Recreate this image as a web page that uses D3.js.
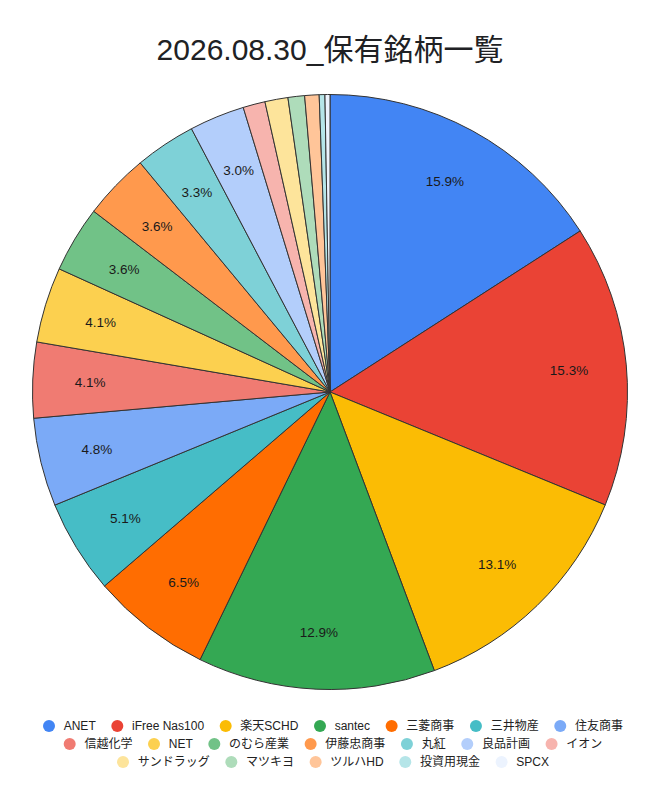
<!DOCTYPE html>
<html>
<head>
<meta charset="utf-8">
<script src="https://cdn.jsdelivr.net/npm/d3@7"></script>
<style>
  html, body { margin: 0; padding: 0; background: #fff; }
  svg { display: block; }
</style>
</head>
<body>
<svg id="chart" width="660" height="802"></svg>
<script>
const title = "2026.08.30_保有銘柄一覧";
const categories = ["ANET", "iFree Nas100", "楽天SCHD", "santec", "三菱商事", "三井物産", "住友商事",
  "信越化学", "NET", "のむら産業", "伊藤忠商事", "丸紅", "良品計画", "イオン",
  "サンドラッグ", "マツキヨ", "ツルハHD", "投資用現金", "SPCX"];
const values = [15.9, 15.3, 13.1, 12.9, 6.5, 5.1, 4.8, 4.1, 4.1, 3.6, 3.6, 3.3, 3.0, 1.2,
  1.25, 0.9, 0.78, 0.31, 0.27];
const colors = ["#4285F4", "#EA4335", "#FBBC04", "#34A853", "#FF6D01", "#46BDC6", "#7BAAF7",
  "#F07B72", "#FCD04F", "#71C287", "#FF994D", "#7ED1D7", "#B3CEFB", "#F7B4AE",
  "#FDE49B", "#AEDCBA", "#FFC599", "#B5E5E8", "#ECF3FE"];

const svg = d3.select("#chart");
const W = 660;
const cx = 330, cy = 392, R = 297.5;
const latinFont = "'Liberation Sans', Arial, 'Noto Sans CJK JP', sans-serif";

svg.append("text")
  .attr("x", W / 2).attr("y", 59.5)
  .attr("text-anchor", "middle")
  .attr("font-family", latinFont)
  .attr("font-size", 30)
  .attr("fill", "#202124")
  .text(title);

const data = categories.map((c, i) => ({ name: c, value: values[i], color: colors[i] }));
const total = d3.sum(values);

const pie = d3.pie().value(d => d.value).sort(null);
const arcs = pie(data);
const arc = d3.arc().innerRadius(0).outerRadius(R);
const labelArc = d3.arc().innerRadius(240).outerRadius(240);

const g = svg.append("g").attr("transform", `translate(${cx},${cy})`);
g.selectAll("path.slice").data(arcs).join("path")
  .attr("class", "slice")
  .attr("d", arc)
  .attr("fill", d => d.data.color)
  .attr("stroke", "#333")
  .attr("stroke-width", 1)
  .attr("stroke-linejoin", "round");

g.selectAll("text.lbl").data(arcs.filter(d => d.data.value / total >= 0.02)).join("text")
  .attr("class", "lbl")
  .attr("transform", d => `translate(${labelArc.centroid(d)})`)
  .attr("text-anchor", "middle")
  .attr("dy", "0.38em")
  .attr("font-family", latinFont)
  .attr("font-size", 13.5)
  .attr("fill", "#1a1a1a")
  .text(d => (d.data.value / total * 100).toFixed(1) + "%");

// Legend
const legend = svg.append("g");
const dotR = 6, textGap = 8.7, itemGap = 15.6, maxRowW = 610, rowY0 = 726, rowH = 18, centerX = 333;
const items = data.map(d => {
  const t = legend.append("text")
    .attr("font-family", latinFont)
    .attr("font-size", 12)
    .attr("fill", "#222")
    .attr("dominant-baseline", "central")
    .text(d.name);
  return { d, t, w: t.node().getComputedTextLength() };
});
const rows = [];
let cur = [], curW = 0;
items.forEach(it => {
  const iw = dotR * 2 + textGap + it.w;
  const add = cur.length ? itemGap + iw : iw;
  if (cur.length && curW + add > maxRowW) {
    rows.push({ items: cur, w: curW });
    cur = [it]; curW = iw;
  } else { cur.push(it); curW += add; }
});
if (cur.length) rows.push({ items: cur, w: curW });

rows.forEach((row, ri) => {
  let x = centerX - row.w / 2;
  const y = rowY0 + ri * rowH;
  row.items.forEach(it => {
    legend.append("circle")
      .attr("cx", x + dotR).attr("cy", y).attr("r", dotR)
      .attr("fill", it.d.color);
    it.t.attr("x", x + dotR * 2 + textGap).attr("y", y);
    x += dotR * 2 + textGap + it.w + itemGap;
  });
});
</script>
</body>
</html>
